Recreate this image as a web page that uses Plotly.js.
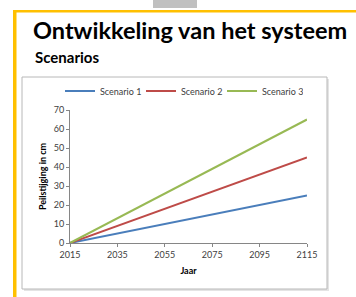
<!DOCTYPE html>
<html>
<head>
<meta charset="utf-8">
<script src="https://cdn.plot.ly/plotly-3.0.1.min.js"></script>
<style>
html,body{margin:0;padding:0;background:#fff;}
#chart{width:356px;height:297px;}
</style>
</head>
<body>
<div id="chart"></div>
<script>
// Data
const years = [2015, 2035, 2055, 2075, 2095, 2115];
const scenario1 = [0, 5, 10, 15, 20, 25];
const scenario2 = [0, 9, 18, 27, 36, 45];
const scenario3 = [0, 13, 26, 39, 52, 65];
const seriesNames = ["Scenario 1", "Scenario 2", "Scenario 3"];
const yTicks = [0, 10, 20, 30, 40, 50, 60, 70];

// Plot area in pixels
const L = 70, R = 307, T = 110, B = 243, W = 356, H = 297;
const px = x => (x - L) / (R - L);
const py = y => (B - y) / (B - T);

const FONT = "Lato, 'Open Sans', sans-serif";
const colors = ["#4A7EBB", "#BE4B48", "#98B954"];

const traces = [scenario1, scenario2, scenario3].map((vals, i) => ({
  x: years, y: vals, name: seriesNames[i], type: "scatter", mode: "lines",
  line: {color: colors[i], width: 2}
}));

const layout = {
  width: W, height: H,
  margin: {l: L, r: W - R, t: T, b: H - B},
  paper_bgcolor: "#ffffff",
  plot_bgcolor: "rgba(0,0,0,0)",
  showlegend: true,
  font: {family: FONT, size: 9, color: "#404040"},
  title: {
    text: "<b>Ontwikkeling van het systeem</b>",
    font: {family: FONT, size: 23.5, color: "#000"},
    x: 33 / W, xanchor: "left", xref: "container",
    y: 1 - 39 / H, yanchor: "bottom", yref: "container"
  },
  legend: {
    orientation: "h", x: px(60), xanchor: "left", y: py(91), yanchor: "middle",
    font: {family: FONT, size: 9, color: "#404040"},
    itemwidth: 30, entrywidth: 36, entrywidthmode: "pixels",
    bgcolor: "rgba(0,0,0,0)", tracegroupgap: 0
  },
  xaxis: {
    range: [2015, 2115], tickvals: years, ticktext: years.map(String),
    showgrid: false, zeroline: false, showline: true, linecolor: "#868686", linewidth: 1,
    ticks: "outside", ticklen: 3, tickcolor: "#868686",
    tickfont: {family: FONT, size: 9, color: "#404040"},
    title: {text: "<b>Jaar</b>", font: {family: FONT, size: 9, color: "#000"}, standoff: 8}
  },
  yaxis: {
    range: [0, 70], tickvals: yTicks,
    showgrid: false, zeroline: false, showline: true, linecolor: "#868686", linewidth: 1,
    ticks: "outside", ticklen: 3, tickcolor: "#868686",
    tickfont: {family: FONT, size: 9, color: "#404040"},
    title: {text: "<b>Peilstijging in cm</b>", font: {family: FONT, size: 9, color: "#000"}, standoff: 5}
  },
  annotations: [{
    text: "<b>Scenarios</b>", xref: "paper", yref: "paper",
    x: px(33), y: py(68), xanchor: "left", yanchor: "bottom", showarrow: false,
    font: {family: FONT, size: 15, color: "#000"}
  }],
  shapes: [
    // gray tab at top
    {type: "rect", xref: "paper", yref: "paper", x0: px(153), x1: px(197), y0: py(0), y1: py(8),
     fillcolor: "#c0c0c0", line: {width: 0}, layer: "below"},
    // yellow top border
    {type: "rect", xref: "paper", yref: "paper", x0: px(13), x1: px(357), y0: py(10), y1: py(12.5),
     fillcolor: "#FFC000", line: {width: 0}, layer: "below"},
    // yellow left border
    {type: "rect", xref: "paper", yref: "paper", x0: px(13), x1: px(16.5), y0: py(10), y1: py(298),
     fillcolor: "#FFC000", line: {width: 0}, layer: "below"},
    // chart box shadow
    {type: "rect", xref: "paper", yref: "paper", x0: px(24), x1: px(329), y0: py(79), y1: py(291),
     fillcolor: "#e4e4e4", line: {width: 0}, layer: "below"},
    // chart box
    {type: "rect", xref: "paper", yref: "paper", x0: px(22), x1: px(327), y0: py(77), y1: py(289),
     fillcolor: "#ffffff", line: {color: "#b8b8b8", width: 1}, layer: "below"}
  ]
};

Plotly.newPlot("chart", traces, layout, {displayModeBar: false, staticPlot: true});
</script>
</body>
</html>
